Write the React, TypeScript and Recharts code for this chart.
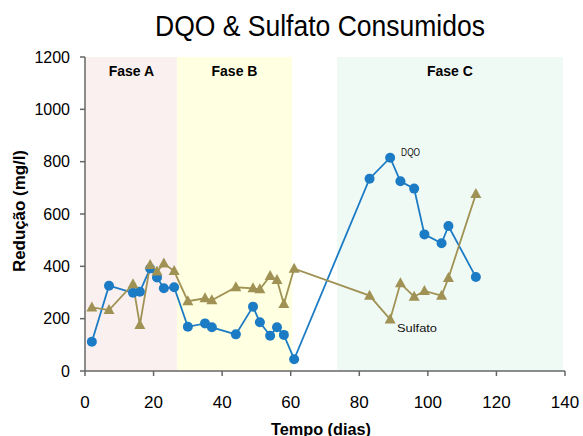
import React from 'react';
import { LineChart, Line, XAxis, YAxis, ReferenceArea, ReferenceDot, Label } from 'recharts';

// Days of measurement (shared by both series)
const days = [2, 7, 14, 16, 19, 21, 23, 26, 30, 35, 37, 44, 49, 51, 54, 56, 58, 61, 83, 89, 92, 96, 99, 104, 106, 114];
// DQO reduction (mg/l)
const dqoValues = [112, 326, 299, 303, 392, 357, 316, 320, 169, 182, 167, 140, 246, 186, 135, 167, 138, 45, 735, 815, 725, 697, 522, 488, 554, 359];
// Sulfato reduction (mg/l)
const sulfatoValues = [243, 233, 332, 176, 405, 380, 411, 382, 267, 278, 270, 320, 316, 312, 363, 348, 256, 391, 288, 197, 335, 284, 306, 288, 355, 676];

const xTicks = [0, 20, 40, 60, 80, 100, 120, 140];
const yTicks = [0, 200, 400, 600, 800, 1000, 1200];

const phaseNames = ['Fase A', 'Fase B', 'Fase C'];
const phaseStarts = [0.3, 26.8, 73.5];
const phaseEnds = [26.8, 60.4, 139.4];

const seriesNames = ['DQO', 'Sulfato'];
const seriesLabelX = [92.2, 91.0];
const seriesLabelY = [822, 149];

const phaseColors = ['#FBF0F0', '#FFFFE1', '#F0FAF5'];
const BLUE = '#1B7BC4';
const OLIVE = '#A09254';
const AXIS = '#666666';
const FONT = "'Liberation Sans', Arial, sans-serif";

const dqoData = days.map((d, i) => ({ day: d, value: dqoValues[i] }));
const sulfatoData = days.map((d, i) => ({ day: d, value: sulfatoValues[i] }));

const Triangle = (props: any) => {
  const { cx, cy, index } = props;
  if (cx == null || cy == null) return <g key={`t-${index}`} />;
  return (
    <path
      key={`t-${index}`}
      d={`M${cx},${cy - 6} L${cx + 5.5},${cy + 4} L${cx - 5.5},${cy + 4} Z`}
      fill={OLIVE}
      stroke="none"
    />
  );
};

const YAxisLabel = (props: any) => {
  const { x, y, height } = props.viewBox;
  return (
    <text
      transform={`translate(${x + 25},${y + height / 2 - 3}) rotate(-90)`}
      textAnchor="middle"
      fontFamily={FONT}
      fontWeight="bold"
      fontSize={17}
      fill="#000"
      textLength={122}
      lengthAdjust="spacingAndGlyphs"
    >
      Redução (mg/l)
    </text>
  );
};

const XAxisLabel = (props: any) => {
  const { x, y, width } = props.viewBox;
  return (
    <text
      x={x + width / 2 - 4}
      y={y + 64}
      textAnchor="middle"
      fontFamily={FONT}
      fontWeight="bold"
      fontSize={17}
      fill="#000"
      textLength={100}
      lengthAdjust="spacingAndGlyphs"
    >
      Tempo (dias)
    </text>
  );
};

const makeSeriesLabel = (text: string, len: number) => (props: any) => {
  const { x, y, width, height } = props.viewBox;
  return (
    <text
      x={x + (width || 0) / 2}
      y={y + (height || 0) / 2}
      textAnchor="start"
      fontFamily={FONT}
      fontSize={11}
      fill="#111"
      textLength={len}
      lengthAdjust="spacingAndGlyphs"
    >
      {text}
    </text>
  );
};

const seriesLabelLens = [19, 40];

export default function App() {
  return (
    <div style={{ position: 'absolute', left: 0, top: 0, width: 583, height: 436, background: '#fff' }}>
      <svg width={583} height={50} style={{ position: 'absolute', left: 0, top: 0 }}>
        <text
          x={320}
          y={36}
          textAnchor="middle"
          fontFamily={FONT}
          fontSize={30}
          fill="#000"
          textLength={330}
          lengthAdjust="spacingAndGlyphs"
        >
          DQO &amp; Sulfato Consumidos
        </text>
      </svg>
      <div style={{ position: 'absolute', left: 0, top: 0 }}>
        <LineChart width={583} height={436} margin={{ top: 57, right: 18, left: 0, bottom: 0 }}>
          {phaseNames.map((name, i) => (
            <ReferenceArea
              key={name}
              x1={phaseStarts[i]}
              x2={phaseEnds[i]}
              y1={0}
              y2={1200}
              fill={phaseColors[i]}
              fillOpacity={1}
              stroke="none"
              ifOverflow="visible"
              label={{
                value: name,
                position: 'insideTop',
                offset: 9,
                fontFamily: FONT,
                fontWeight: 'bold',
                fontSize: 14,
                fill: '#000',
              }}
            />
          ))}
          <XAxis
            type="number"
            dataKey="day"
            domain={[0, 140]}
            ticks={xTicks}
            interval={0}
            height={65}
            tickSize={5}
            tickMargin={20}
            axisLine={{ stroke: AXIS, strokeWidth: 1.5 }}
            tickLine={{ stroke: AXIS, strokeWidth: 1.5 }}
            tick={{ fill: '#000', fontSize: 17, fontFamily: FONT }}
            allowDuplicatedCategory={false}
          >
            <Label content={XAxisLabel} />
          </XAxis>
          <YAxis
            type="number"
            dataKey="value"
            domain={[0, 1200]}
            ticks={yTicks}
            interval={0}
            width={85}
            tickSize={5}
            tickMargin={10}
            axisLine={{ stroke: AXIS, strokeWidth: 1.5 }}
            tickLine={{ stroke: AXIS, strokeWidth: 1.5 }}
            tick={{ fill: '#000', fontSize: 16, fontFamily: FONT }}
          >
            <Label content={YAxisLabel} />
          </YAxis>
          <Line
            data={dqoData}
            dataKey="value"
            name="DQO"
            type="linear"
            stroke={BLUE}
            strokeWidth={1.8}
            dot={{ r: 5, fill: BLUE, stroke: BLUE, strokeWidth: 0 }}
            activeDot={false}
            isAnimationActive={false}
          />
          <Line
            data={sulfatoData}
            dataKey="value"
            name="Sulfato"
            type="linear"
            stroke={OLIVE}
            strokeWidth={1.8}
            dot={Triangle}
            activeDot={false}
            isAnimationActive={false}
          />
          {seriesNames.map((name, i) => (
            <ReferenceDot
              key={name}
              x={seriesLabelX[i]}
              y={seriesLabelY[i]}
              r={1}
              fill="none"
              stroke="none"
              ifOverflow="visible"
              label={<Label content={makeSeriesLabel(name, seriesLabelLens[i])} />}
            />
          ))}
        </LineChart>
      </div>
    </div>
  );
}
